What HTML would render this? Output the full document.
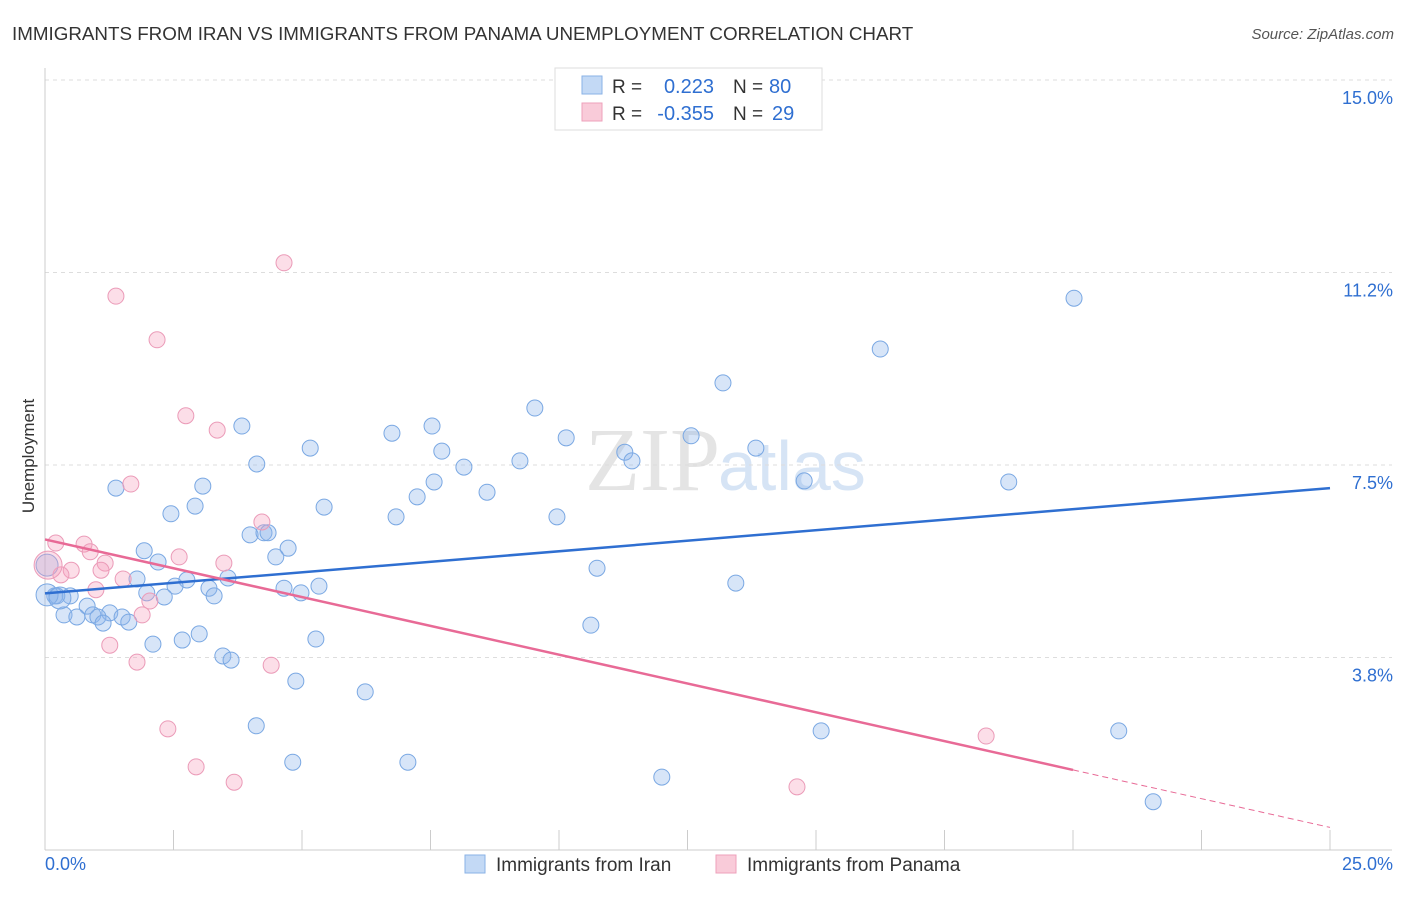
<!DOCTYPE html>
<html><head><meta charset="utf-8"><style>
body{margin:0;background:#fff;font-family:"Liberation Sans",sans-serif}
</style></head><body>
<svg width="1406" height="892" xmlns="http://www.w3.org/2000/svg" font-family="Liberation Sans, sans-serif">
<text x="12" y="40" font-size="18.8" fill="#333">IMMIGRANTS FROM IRAN VS IMMIGRANTS FROM PANAMA UNEMPLOYMENT CORRELATION CHART</text>
<text x="1394" y="39" font-size="15" fill="#555" text-anchor="end" font-style="italic">Source: ZipAtlas.com</text>
<text x="720" y="490" font-size="90" fill="#e4e4e4" text-anchor="end" font-family="Liberation Serif, serif">ZIP</text>
<text x="718" y="490" font-size="70" fill="#d6e4f5">atlas</text>
<g id="grid"></g>
<g id="axes"></g>
<g id="marks"></g>
<text x="34" y="456" font-size="17" fill="#333" text-anchor="middle" transform="rotate(-90 34 456)">Unemployment</text>
<g>
<rect x="555" y="68" width="267" height="62" fill="#fff" stroke="#ddd"/>
<rect x="582" y="76" width="20" height="18" fill="#c3d9f5" stroke="#8ab2e6"/>
<rect x="582" y="103" width="20" height="18" fill="#f9cbd9" stroke="#eea0bb"/>
<text x="612" y="93" font-size="19" fill="#333">R =</text>
<text x="714" y="93" font-size="20" fill="#2f6fd1" text-anchor="end">0.223</text>
<text x="733" y="93" font-size="19" fill="#333">N =</text>
<text x="769" y="93" font-size="20" fill="#2f6fd1">80</text>
<text x="612" y="120" font-size="19" fill="#333">R =</text>
<text x="714" y="120" font-size="20" fill="#2f6fd1" text-anchor="end">-0.355</text>
<text x="733" y="120" font-size="19" fill="#333">N =</text>
<text x="772" y="120" font-size="20" fill="#2f6fd1">29</text>
</g>
<g>
<rect x="465" y="855" width="20" height="18" fill="#c3d9f5" stroke="#8ab2e6"/>
<text x="496" y="871" font-size="19" fill="#333">Immigrants from Iran</text>
<rect x="716" y="855" width="20" height="18" fill="#f9cbd9" stroke="#eea0bb"/>
<text x="747" y="871" font-size="19" fill="#333">Immigrants from Panama</text>
</g>
</svg>
<script>
const yTicks=[3.75,7.5,11.25,15.0];
const yTickLabels=["3.8%","7.5%","11.2%","15.0%"];
const xLabels=["0.0%","25.0%"];
function homeX(p){return Math.round((p-45)/51.4*100)/100}
function homeY(p){return Math.round((850-p)/51.33*100)/100}
const iranX=[1074,880,723,535,242,432,392,566,691,310,442,625,756,632,257,520,464,804,1009,434,116,203,487,417,195,324,171,396,557,250,264,268,288,144,276,158,597,137,187,228,175,209,319,736,284,147,164,214,301,55,70,87,64,77,93,110,98,122,103,129,199,182,153,316,591,223,231,296,365,256,821,1119,293,408,662,1153,57,47,47,60].map(homeX);
const iranY=[298,349,383,408,426,426,433,438,436,448,451,452,448,461,464,461,467,481,482,482,488,486,492,497,506,507,514,517,517,535,533,533,548,551,557,562,568,579,580,578,586,588,586,583,588,593,597,596,593,596,596,606,615,617,615,613,617,617,623,622,634,640,644,639,625,656,660,681,692,726,731,731,762,762,777,802,596,595,565,598].map(homeY);
const panamaX=[284,116,157,186,217,131,262,56,84,90,105,71,101,179,224,61,123,96,150,142,110,137,271,168,196,234,797,986,48].map(homeX);
const panamaY=[263,296,340,416,430,484,522,543,544,552,563,570,570,557,563,575,579,590,601,615,645,662,665,729,767,782,787,736,565].map(homeY);
const iranTrend=[[0,5.0],[25,7.05]];
const panamaTrend=[[0,6.05],[20,1.56]];
const panamaDash=[[20,1.56],[25,0.44]];
const X0=45,X1=1330,Y0=850;
const sx=v=>X0+v/25*(X1-X0);
const sy=v=>Y0-v*51.33;
const NS="http://www.w3.org/2000/svg";
function mk(t,a,p){const e=document.createElementNS(NS,t);for(const k in a)e.setAttribute(k,a[k]);p.appendChild(e);return e}
const grid=document.getElementById('grid'),axes=document.getElementById('axes'),marks=document.getElementById('marks');
yTicks.forEach((v,i)=>{
 const l=mk('line',{x1:X0,x2:1392,y1:sy(v),y2:sy(v),stroke:'#ddd','stroke-dasharray':'4,4'},grid);
 
 
 const t=mk('text',{x:1393,y:sy(v)+24,'font-size':18,fill:'#2f6fd1','text-anchor':'end'},axes);
 t.textContent=yTickLabels[i];
 
 
});
mk('line',{x1:X0,x2:X0,y1:68,y2:Y0,stroke:'#ccc'},axes);
mk('line',{x1:X0,x2:1392,y1:Y0,y2:Y0,stroke:'#ccc'},axes);
for(let i=0;i<=10;i++){mk('line',{x1:X0+i*128.5,x2:X0+i*128.5,y1:Y0,y2:Y0-20,stroke:'#ccc'},axes);}
const xl0=mk('text',{x:45,y:870,'font-size':18,fill:'#2f6fd1'},axes);xl0.textContent=xLabels[0];


const xl1=mk('text',{x:1393,y:870,'font-size':18,fill:'#2f6fd1','text-anchor':'end'},axes);xl1.textContent=xLabels[1];


iranX.forEach((x,i)=>{const r=i>=77?11:8;const c=mk('circle',{cx:sx(x),cy:sy(iranY[i]),r:r,fill:'rgba(140,180,235,0.35)',stroke:'#7aa8e3','stroke-width':1},marks);
 
 });
panamaX.forEach((x,i)=>{const r=i==28?14:8;const c=mk('circle',{cx:sx(x),cy:sy(panamaY[i]),r:r,fill:'rgba(245,160,190,0.35)',stroke:'#eb9bb8','stroke-width':1},marks);
 
 });
const t1=mk('line',{x1:sx(iranTrend[0][0]),y1:sy(iranTrend[0][1]),x2:sx(iranTrend[1][0]),y2:sy(iranTrend[1][1]),stroke:'#2f6fd1','stroke-width':2.5},marks);


const t2=mk('line',{x1:sx(panamaTrend[0][0]),y1:sy(panamaTrend[0][1]),x2:sx(panamaTrend[1][0]),y2:sy(panamaTrend[1][1]),stroke:'#e86a96','stroke-width':2.5},marks);


const t3=mk('line',{x1:sx(panamaDash[0][0]),y1:sy(panamaDash[0][1]),x2:sx(panamaDash[1][0]),y2:sy(panamaDash[1][1]),stroke:'#e86a96','stroke-width':1,'stroke-dasharray':'6,4'},marks);


</script>
</body></html>
